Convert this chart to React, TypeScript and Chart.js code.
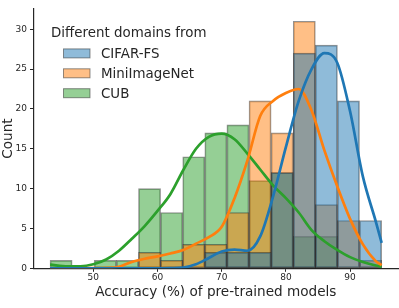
import { useEffect, useRef } from 'react';
import { Chart, registerables } from 'chart.js';

Chart.register(...registerables);

const LEGEND_TITLE = 'Different domains from';
const SERIES = ['CIFAR-FS', 'MiniImageNet', 'CUB'];
const X_TITLE = 'Accuracy (%) of pre-trained models';
const Y_TITLE = 'Count';

// histogram bin centres (15 bins, width ~3.44)
const BIN_CENTERS = [44.98, 48.43, 51.87, 55.31, 58.76, 62.2, 65.65, 69.09, 72.53, 75.98, 79.42, 82.87, 86.31, 89.75, 93.2];
const CIFAR_COUNTS = [0, 0, 0, 0, 0, 0, 0, 2, 2, 2, 12, 27, 28, 21, 6];
const MINI_COUNTS = [0, 0, 0, 0, 2, 1, 3, 3, 7, 21, 17, 31, 8, 6, 1];
const CUB_COUNTS = [1, 0, 1, 1, 10, 7, 14, 17, 18, 11, 12, 4, 4, 0, 0];

// KDE curves (scaled to counts)
const KDE_X = [43.26, 46, 48, 50, 52, 54, 56, 58, 60, 62, 64, 66, 68, 70, 72, 74, 76, 78, 80, 82, 84, 86, 88, 90, 92, 94, 94.92];
const CIFAR_KDE = [0, 0, 0, 0, 0, 0, 0, 0, 0, 0.03, 0.1, 0.5, 1.3, 2.1, 2.35, 2.2, 4.0, 9.0, 15.2, 21.0, 25.0, 27.0, 25.8, 19.7, 11.5, 5.9, 3.2];
const MINI_KDE = [0, 0, 0, 0.02, 0.05, 0.2, 0.8, 1.2, 1.5, 1.85, 2.3, 3.1, 3.9, 5.2, 8.8, 13.5, 19.1, 21.0, 22.0, 22.5, 19.8, 14.8, 10.3, 6.2, 3.0, 0.9, 0.4];
const CUB_KDE = [0.45, 0.25, 0.25, 0.5, 1.1, 2.2, 3.7, 5.3, 7.2, 9.3, 12.3, 15.0, 16.5, 16.9, 16.2, 14.4, 12.4, 10.4, 8.8, 7.0, 4.8, 3.4, 2.3, 1.4, 0.8, 0.35, 0.2];

const X_TICKS = [50, 60, 70, 80, 90];
const Y_TICKS = [0, 5, 10, 15, 20, 25, 30];

const COLORS = ['#1f77b4', '#ff7f0e', '#2ca02c'];
const FILLS = ['rgba(31,119,180,0.5)', 'rgba(255,127,14,0.5)', 'rgba(44,160,44,0.5)'];
const EDGE = 'rgba(38,38,38,0.5)';
const TEXT = '#262626';
const FAMILY = '"DejaVu Sans", sans-serif';

const legendPlugin = {
  id: 'domainLegend',
  afterDraw(chart: any) {
    const ctx = chart.ctx;
    ctx.save();
    ctx.font = `13.4px ${FAMILY}`;
    ctx.textBaseline = 'middle';
    ctx.textAlign = 'left';
    ctx.fillStyle = TEXT;
    ctx.fillText(LEGEND_TITLE, 51, 33.6);
    const bars = chart.data.datasets.filter((d: any) => d.type === 'bar');
    bars.forEach((ds: any, i: number) => {
      const ty = 54.4 + i * 19.9;
      const sy = ty - 1;
      ctx.fillStyle = ds.backgroundColor;
      ctx.fillRect(63.5, sy - 4.5, 26.5, 9);
      ctx.strokeStyle = ds.borderColor;
      ctx.lineWidth = 1;
      ctx.strokeRect(63.5, sy - 4.5, 26.5, 9);
      ctx.fillStyle = TEXT;
      ctx.fillText(ds.label, 101, ty);
    });
    ctx.restore();
  },
};

export default function App() {
  const ref = useRef<HTMLCanvasElement | null>(null);

  useEffect(() => {
    if (!ref.current) return;
    const counts = [CIFAR_COUNTS, MINI_COUNTS, CUB_COUNTS];
    const kdes = [CIFAR_KDE, MINI_KDE, CUB_KDE];

    const lineSets = SERIES.map((name, s) => ({
      type: 'line' as const,
      label: name + ' KDE',
      data: KDE_X.map((x, i) => ({ x, y: kdes[s][i] })),
      borderColor: COLORS[s],
      borderWidth: 2.7,
      pointRadius: 0,
      fill: false,
      cubicInterpolationMode: 'monotone' as const,
      clip: 0,
      order: 0,
    }));

    const barSets = SERIES.map((name, s) => ({
      type: 'bar' as const,
      label: name,
      data: BIN_CENTERS.map((x, i) => ({ x, y: counts[s][i] })),
      backgroundColor: FILLS[s],
      borderColor: EDGE,
      borderWidth: 1,
      borderSkipped: false,
      grouped: false,
      barPercentage: 1,
      categoryPercentage: 1,
      order: 1,
    }));

    const chart = new Chart(ref.current, {
      type: 'bar',
      data: { datasets: [...lineSets, ...barSets] as any },
      options: {
        animation: false,
        responsive: false,
        maintainAspectRatio: false,
        layout: { padding: { left: 0, right: 0.8, top: 8.9, bottom: 0 } },
        plugins: { legend: { display: false }, tooltip: { enabled: false } },
        scales: {
          x: {
            type: 'linear',
            min: 40.68,
            max: 97.5,
            offset: false,
            z: 1,
            afterBuildTicks: (s: any) => {
              s.ticks = X_TICKS.map((v) => ({ value: v }));
            },
            afterFit: (s: any) => {
              s.height = 39.7;
            },
            grid: { display: true, offset: false, drawOnChartArea: false, drawTicks: true, tickLength: 3.5, tickColor: TEXT, tickWidth: 1 },
            border: { display: true, color: TEXT, width: 1.2 },
            ticks: { font: { family: FAMILY, size: 9 }, color: TEXT, padding: 0.8, maxRotation: 0, autoSkip: false },
            title: {
              display: true,
              text: X_TITLE,
              color: TEXT,
              font: { family: FAMILY, size: 13.6, lineHeight: 1.2 },
              padding: { top: 0, bottom: 7.3 },
            },
          },
          y: {
            type: 'linear',
            min: 0,
            max: 32.55,
            z: 1,
            afterBuildTicks: (s: any) => {
              s.ticks = Y_TICKS.map((v) => ({ value: v }));
            },
            afterFit: (s: any) => {
              s.width = 33.5;
            },
            grid: { display: true, drawOnChartArea: false, drawTicks: true, tickLength: 3.5, tickColor: TEXT, tickWidth: 1 },
            border: { display: true, color: TEXT, width: 1.2 },
            ticks: { font: { family: FAMILY, size: 9 }, color: TEXT, padding: 3 },
            title: {
              display: true,
              text: Y_TITLE,
              color: TEXT,
              font: { family: FAMILY, size: 13.6, lineHeight: 1.2 },
              padding: { top: 0.3, bottom: 0 },
            },
          },
        },
      } as any,
      plugins: [legendPlugin],
    });
    return () => chart.destroy();
  }, []);

  return (
    <div style={{ position: 'fixed', left: 0, top: 0, width: 399, height: 308, background: '#fff' }}>
      <canvas ref={ref} width={399} height={308} style={{ display: 'block', width: 399, height: 308 }} />
    </div>
  );
}
